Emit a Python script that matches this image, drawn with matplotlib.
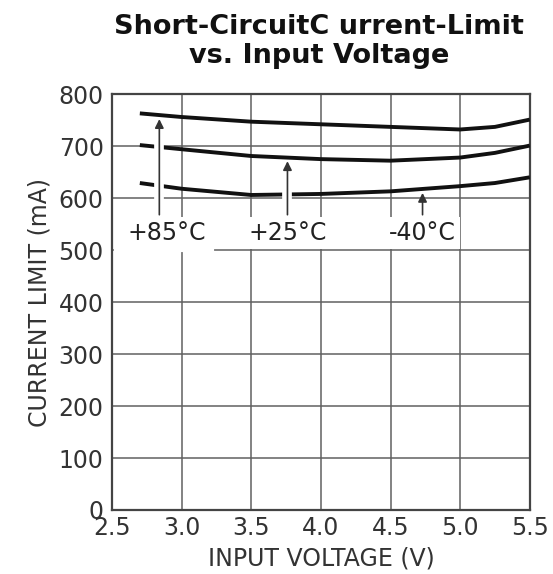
#!/usr/bin/env python3
import matplotlib
matplotlib.use("Agg")
import matplotlib.pyplot as plt

plt.rcParams['font.family'] = ['DejaVu Sans']

# input voltage (V)
volts = [2.7, 3.0, 3.5, 4.0, 4.5, 5.0, 5.25, 5.5]
# current limit (mA) per temperature
i_85 = [763, 756, 747, 742, 737, 732, 737, 751]
i_25 = [702, 694, 681, 675, 672, 678, 687, 701]
i_m40 = [629, 618, 606, 608, 613, 623, 629, 640]

# label text, label x, arrow x, arrow tip
labels = ["+85°C", "+25°C", "-40°C"]
label_x = [2.89, 3.76, 4.73]
arrow_x = [2.84, 3.76, 4.73]
arrow_tip = [752, 671, 610]

xticks = [2.5, 3.0, 3.5, 4.0, 4.5, 5.0, 5.5]
yticks = [0, 100, 200, 300, 400, 500, 600, 700, 800]

fig = plt.figure(figsize=(5.53, 5.74), dpi=100, facecolor='w')
ax = fig.add_axes([0.2025, 0.1115, 0.7555, 0.7245])

ax.set_xlim(2.5, 5.5)
ax.set_ylim(0, 800)
ax.set_xticks(xticks)
ax.set_xticklabels(["%.1f" % v for v in xticks])
ax.set_yticks(yticks)
ax.grid(True, color='#606060', linewidth=1.1)
ax.set_axisbelow(True)
ax.tick_params(length=0, labelsize=17, colors='#333333')
ax.tick_params(axis='y', pad=6)
ax.tick_params(axis='x', pad=4)
for s in ax.spines.values():
    s.set_color('#444444')
    s.set_linewidth(1.6)

# gap in the 500 mA grid line next to the +85 label
ax.plot([2.53, 3.22], [500, 500], color='white', linewidth=3, zorder=1)

for ys in (i_85, i_25, i_m40):
    ax.plot(volts, ys, color='#111111', linewidth=2.8, solid_capstyle='butt', zorder=3)

# arrows; a white band under each shaft breaks the curves it crosses
for x, tip in zip(arrow_x, arrow_tip):
    ax.plot([x, x], [570, tip - 25], color='white', linewidth=7,
            solid_capstyle='butt', zorder=3.5)
    ax.annotate("", xy=(x, tip), xytext=(x, 568),
                arrowprops=dict(arrowstyle='-|>', color='#333333', lw=1.2,
                                mutation_scale=13, shrinkA=0, shrinkB=0),
                zorder=4)

for lab, lx in zip(labels, label_x):
    ax.text(lx, 533, lab, ha='center', va='center', fontsize=17, color='#222222',
            bbox=dict(facecolor='white', edgecolor='none', pad=3), zorder=5)

ax.set_xlabel("INPUT VOLTAGE (V)", fontsize=17, color='#333333', labelpad=5)
ax.set_ylabel("CURRENT LIMIT (mA)", fontsize=17, color='#333333', labelpad=5)
fig.suptitle("Short-CircuitC urrent-Limit\nvs. Input Voltage", fontsize=19.5,
             fontweight='bold', color='#111111', x=0.577, y=0.975, linespacing=1.15)

fig.savefig("out.png", dpi=100, facecolor='w')
